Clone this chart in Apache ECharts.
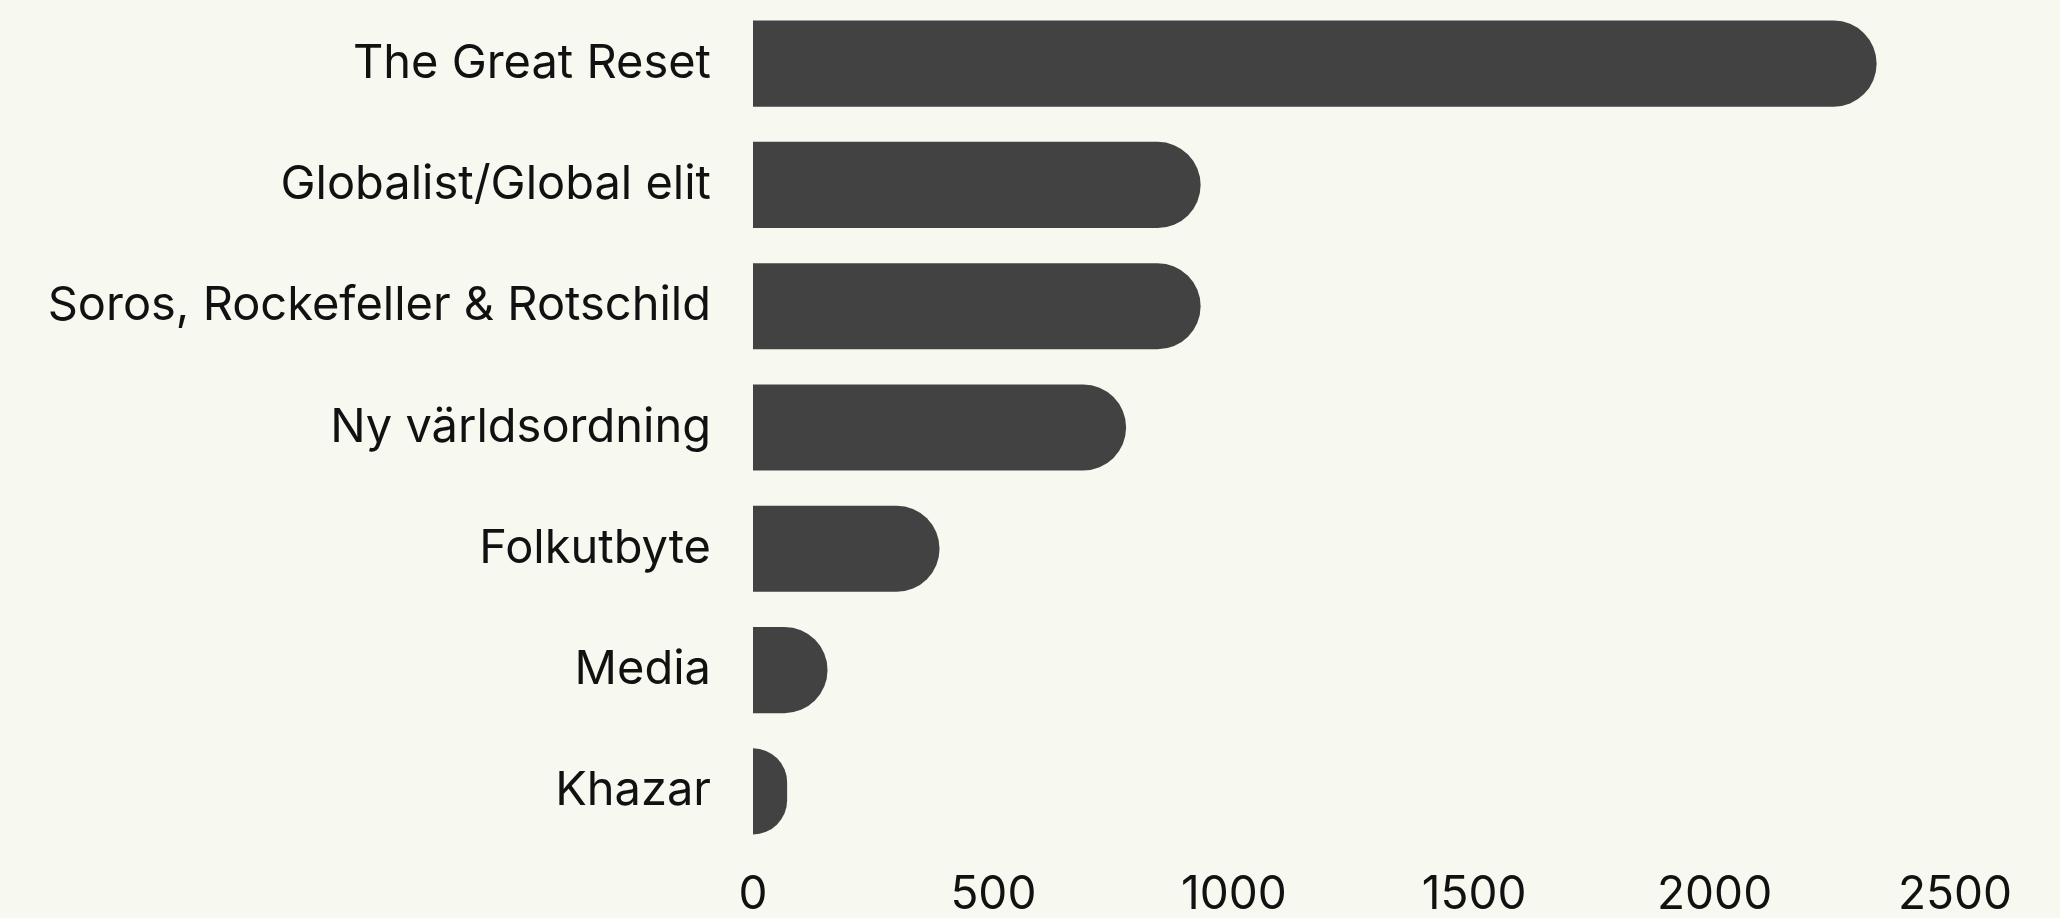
<!DOCTYPE html>
<html>
<head>
<meta charset="utf-8">
<script src="https://cdn.jsdelivr.net/npm/echarts@6/dist/echarts.min.js"></script>
<style>
  html, body { margin: 0; padding: 0; background: #f7f8ef; }
  #main { width: 2060px; height: 918px; }
</style>
</head>
<body>
<div id="main"></div>
<script>
// categories top to bottom, as in the picture
var categories = ['The Great Reset', 'Globalist/Global elit', 'Soros, Rockefeller & Rotschild',
    'Ny världsordning', 'Folkutbyte', 'Media', 'Khazar'];
var counts = [2337, 931, 931, 776, 388, 155, 71];

var myChart = echarts.init(document.getElementById('main'));

var option = {
    backgroundColor: '#f7f8ef',
    animation: false,
    grid: {
        left: 753,
        right: 105,
        top: 3,
        bottom: 66,
        containLabel: false
    },
    xAxis: {
        type: 'value',
        min: 0,
        max: 2500,
        interval: 500,
        axisLine: { show: false },
        axisTick: { show: false },
        splitLine: { show: false },
        axisLabel: {
            margin: 20,
            color: '#111',
            fontFamily: 'Inter',
            fontSize: 46,
            formatter: function (v) { return String(v); }
        }
    },
    yAxis: {
        type: 'category',
        inverse: true,
        data: categories,
        axisLine: { show: false },
        axisTick: { show: false },
        axisLabel: {
            margin: 42,
            color: '#111',
            fontFamily: 'Inter',
            fontSize: 47
        }
    },
    series: [{
        type: 'bar',
        data: counts,
        barCategoryGap: '29%',
        itemStyle: {
            color: '#424242',
            borderRadius: [0, 43, 43, 0]
        }
    }]
};

myChart.setOption(option);
</script>
</body>
</html>
